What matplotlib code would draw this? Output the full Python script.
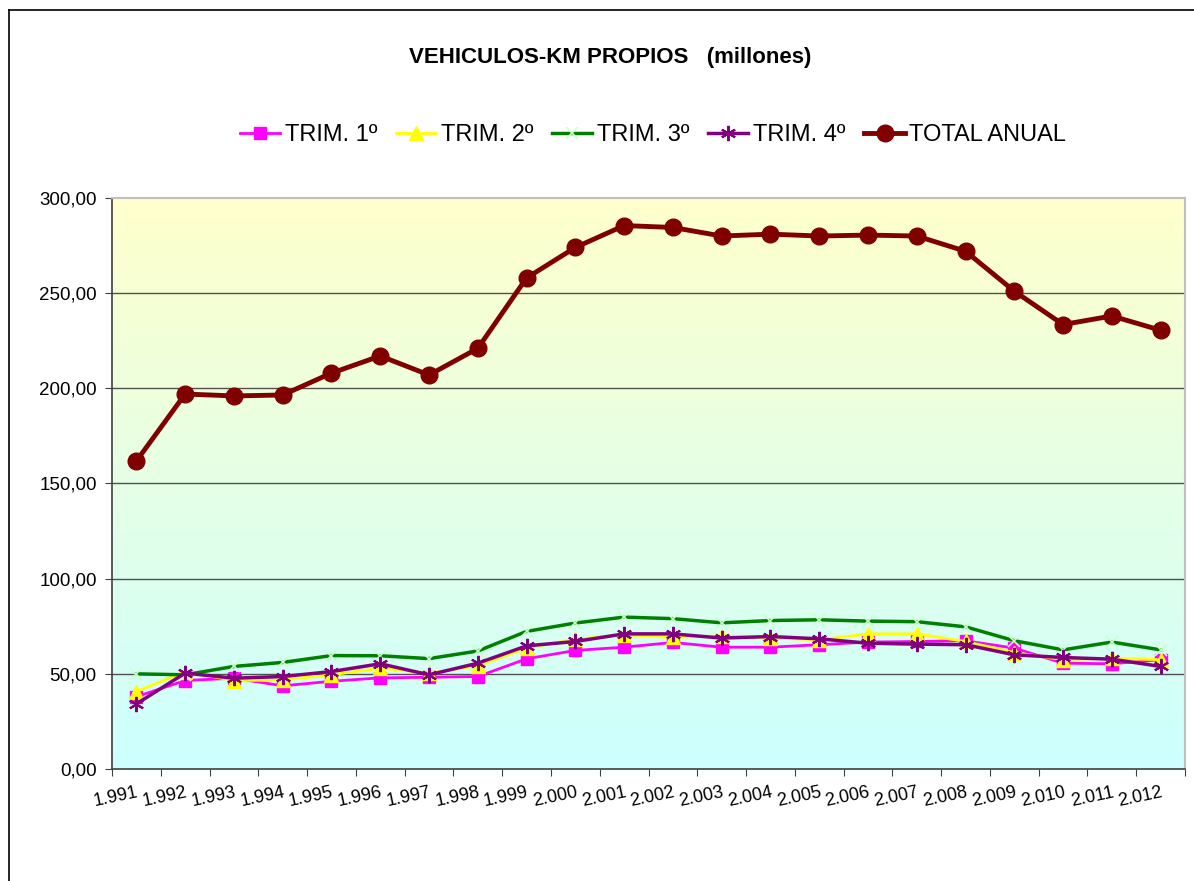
import numpy as np
import matplotlib
matplotlib.use("Agg")
import matplotlib.pyplot as plt
from matplotlib.lines import Line2D

plt.rcParams['font.family'] = ['Liberation Sans', 'DejaVu Sans']

# Data (millions of vehicle-km)
years = ['1.991', '1.992', '1.993', '1.994', '1.995', '1.996', '1.997', '1.998',
         '1.999', '2.000', '2.001', '2.002', '2.003', '2.004', '2.005', '2.006',
         '2.007', '2.008', '2.009', '2.010', '2.011', '2.012']
trim1 = [38.0, 46.5, 47.7, 43.7, 46.1, 47.9, 48.2, 48.6, 57.9, 62.3, 64.0,
         66.5, 64.0, 64.0, 65.3, 66.7, 67.0, 67.4, 63.5, 55.6, 55.3, 57.4]
trim2 = [40.7, 51.2, 46.5, 46.8, 49.5, 53.0, 50.4, 54.2, 63.5, 68.2, 70.5,
         69.1, 70.0, 68.8, 67.9, 71.0, 71.0, 67.0, 61.2, 57.4, 58.2, 57.4]
trim3 = [50.0, 49.5, 53.9, 56.0, 59.6, 59.5, 58.0, 62.0, 72.3, 76.7, 79.8,
         79.0, 76.8, 78.0, 78.4, 77.7, 77.4, 74.7, 67.4, 62.6, 66.7, 62.6]
trim4 = [34.2, 50.4, 47.7, 48.6, 51.2, 55.3, 49.5, 55.6, 64.7, 67.0, 71.0,
         71.0, 68.8, 69.6, 68.4, 66.1, 65.6, 65.3, 60.0, 58.6, 57.7, 53.9]
total = [161.8, 197.0, 196.0, 196.5, 208.0, 217.0, 207.0, 221.0, 258.0, 274.0, 285.5,
         284.5, 280.0, 281.0, 280.0, 280.5, 280.0, 272.0, 251.0, 233.5, 238.0, 230.5]

fig = plt.figure(figsize=(11.94, 8.81), dpi=100)
ax = fig.add_axes([0.0938, 0.1271, 0.8987, 0.6482])

x = np.arange(len(years))
ax.set_xlim(-0.5, len(years) - 0.5)
ax.set_ylim(0, 300)

# background gradient: pale yellow at top to pale cyan at bottom
grad = np.linspace(0, 1, 256).reshape(-1, 1)
top = np.array([255, 255, 204]) / 255
bot = np.array([204, 255, 255]) / 255
img = top + (bot - top) * grad[..., None]
ax.imshow(img, extent=[-0.5, len(years) - 0.5, 0, 300], aspect='auto',
          origin='upper', zorder=0)

for yv in range(50, 300, 50):
    ax.axhline(yv, color='#505050', lw=1.0, zorder=1)

asterisk = (6, 2, 0)
ax.plot(x, trim1, color='#FF00FF', lw=2, marker='s', ms=9, mfc='#FF00FF',
        mec='#FF00FF', label='TRIM. 1º', zorder=3)
ax.plot(x, trim2, color='#FFFF00', lw=2, marker='^', ms=10, mfc='#FFFF00',
        mec='#FFFF00', label='TRIM. 2º', zorder=4)
ax.plot(x, trim3, color='#008000', lw=2.5, marker='x', ms=9, mec='#CCFFCC',
        mew=1.2, label='TRIM. 3º', zorder=5)
ax.plot(x, trim4, color='#800080', lw=2.5, marker=asterisk, ms=11, mec='#800080',
        mew=1.5, label='TRIM. 4º', zorder=6)
ax.plot(x, total, color='#800000', lw=3.5, marker='o', ms=12, mfc='#800000',
        mec='#800000', label='TOTAL ANUAL', zorder=7)

ax.set_yticks(np.arange(0, 301, 50))
ax.set_yticklabels([f'{v:.2f}'.replace('.', ',') for v in range(0, 301, 50)],
                   fontsize=13.5)
ax.set_xticks(np.arange(-0.5, len(years), 1), minor=False)
ax.set_xticklabels([])
ax.set_xticks(x, minor=True)
ax.set_xticklabels(years, minor=True, rotation=12, ha='right',
                   rotation_mode='anchor', fontsize=13)
ax.tick_params(axis='x', which='minor', length=0, pad=11)
ax.tick_params(axis='x', which='major', length=5, color='#404040')
ax.tick_params(axis='y', length=5, color='#404040', pad=6)

for s in ['left', 'bottom']:
    ax.spines[s].set_color('#404040')
    ax.spines[s].set_linewidth(1.2)
for s in ['right', 'top']:
    ax.spines[s].set_color('#C0C0C0')
    ax.spines[s].set_linewidth(1.5)

fig.text(0.511, 0.935, 'VEHICULOS-KM PROPIOS   (millones)', ha='center',
         va='center', fontsize=16, fontweight='bold')

fig.legend(loc='center', bbox_to_anchor=(0.547, 0.847), ncol=5, frameon=False,
           fontsize=17, handlelength=1.7, handletextpad=0.2, columnspacing=0.8)

# outer chart border (left and top visible)
fig.add_artist(Line2D([9 / 1194, 9 / 1194], [0, 1 - 10 / 881], color='black',
                      lw=1.2, transform=fig.transFigure))
fig.add_artist(Line2D([9 / 1194, 1], [1 - 10 / 881, 1 - 10 / 881], color='black',
                      lw=1.2, transform=fig.transFigure))

fig.savefig('out.png', dpi=100)
